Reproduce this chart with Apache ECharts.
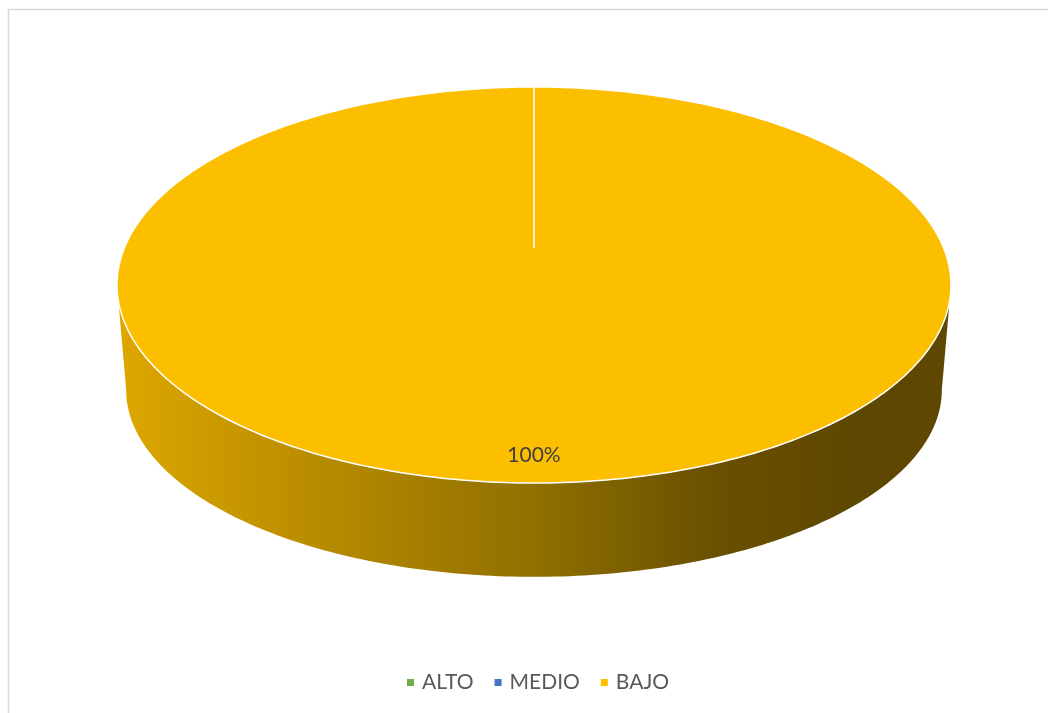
<!DOCTYPE html>
<html>
<head>
<meta charset="utf-8">
<script src="https://cdn.jsdelivr.net/npm/echarts@6/dist/echarts.min.js"></script>
<style>
html,body{margin:0;padding:0;background:#fff;}
#chart{width:1048px;height:713px;}
</style>
</head>
<body>
<div id="chart"></div>
<script>
// ---- data ----
const categories = ['ALTO', 'MEDIO', 'BAJO'];
const values = [0, 0, 100];
const legendColors = ['#70AD47', '#4472C4', '#FFC000'];

// ---- geometry / style (not data) ----
const SIDE = { bx: 0.978, by0: -0.530, by: 0.944 }; // bottom ellipse in unit coords
const APEX_Y = 0.19; // perspective-projected pie centre on the top face
const sideStops = [
  { offset: 0, color: '#DCA600' },
  { offset: 0.3, color: '#AE8400' },
  { offset: 0.5, color: '#907000' },
  { offset: 0.72, color: '#6A5000' },
  { offset: 0.88, color: '#5E4700' },
  { offset: 1, color: '#5E4700' }
];
const topColors = ['#70AD47', '#4472C4', '#FBBF00'];

const total = values.reduce((a, b) => a + b, 0);
const cum = [];
values.reduce((acc, v, i) => { cum[i] = acc; return acc + v; }, 0);

function deg(d) { return d * Math.PI / 180; }

function makeRender(idx) {
  return function (params, api) {
    const v = api.value(0);
    if (!v || total <= 0) return { type: 'group', children: [] };
    const a0 = 90 - 360 * cum[idx] / total;       // start (12 o'clock, clockwise)
    const a1 = 90 - 360 * (cum[idx] + v) / total; // end
    const steps = Math.max(8, Math.ceil((a0 - a1) / 1));
    const topPts = [];
    topPts.push(api.coord([0, APEX_Y]));
    for (let k = 0; k <= steps; k++) {
      const t = deg(a0 - (a0 - a1) * k / steps);
      topPts.push(api.coord([Math.cos(t), Math.sin(t)]));
    }
    const children = [];
    const lo = Math.max(a1, -180), hi = Math.min(a0, 0);
    if (hi > lo) {
      const n = Math.ceil(hi - lo);
      const pts = [];
      for (let k = 0; k <= n; k++) {
        const t = deg(lo + (hi - lo) * k / n);
        pts.push(api.coord([Math.cos(t), Math.sin(t)]));
      }
      for (let k = n; k >= 0; k--) {
        const t = deg(lo + (hi - lo) * k / n);
        pts.push(api.coord([SIDE.bx * Math.cos(t), SIDE.by0 + SIDE.by * Math.sin(t)]));
      }
      const xl = api.coord([-SIDE.bx, 0])[0], xr = api.coord([SIDE.bx, 0])[0];
      children.push({
        type: 'polygon',
        shape: { points: pts },
        style: {
          fill: { type: 'linear', x: xl, y: 0, x2: xr, y2: 0, global: true, colorStops: sideStops },
          stroke: null
        }
      });
    }
    children.push({
      type: 'polygon',
      shape: { points: topPts },
      style: { fill: topColors[idx], stroke: '#ffffff', lineWidth: 1.5, lineJoin: 'round' }
    });
    const mid = deg((a0 + a1) / 2);
    const lp = api.coord([0.86 * Math.cos(mid), 0.86 * Math.sin(mid)]);
    children.push({
      type: 'text',
      x: lp[0], y: lp[1],
      style: {
        text: Math.round(v / total * 100) + '%',
        fill: '#404040',
        font: '21px Lato',
        align: 'center',
        verticalAlign: 'middle'
      }
    });
    return { type: 'group', children: children };
  };
}

const chart = echarts.init(document.getElementById('chart'), null, { renderer: 'canvas' });
chart.setOption({
  backgroundColor: '#ffffff',
  animation: false,
  graphic: [{
    type: 'rect',
    shape: { x: 8.5, y: 9.5, width: 1100, height: 800 },
    style: { fill: 'none', stroke: '#D9D9D9', lineWidth: 1.5 },
    silent: true,
    z: -10
  }],
  grid: { left: 117, right: 97, top: 87, bottom: 230 },
  xAxis: { type: 'value', min: -1, max: 1, show: false },
  yAxis: { type: 'value', min: -1, max: 1, show: false },
  legend: {
    data: categories,
    bottom: 15,
    left: 402,
    icon: 'rect',
    itemWidth: 7,
    itemHeight: 7,
    itemGap: 21,
    textStyle: { color: '#595959', fontSize: 21, fontFamily: 'Lato', padding: [0, 0, 0, 3] },
    selectedMode: false
  },
  series: categories.map((name, i) => ({
    type: 'custom',
    name: name,
    coordinateSystem: 'cartesian2d',
    itemStyle: { color: legendColors[i] },
    data: [[values[i]]],
    encode: { x: -1, y: -1 },
    renderItem: makeRender(i),
    silent: true
  }))
});
</script>
</body>
</html>
